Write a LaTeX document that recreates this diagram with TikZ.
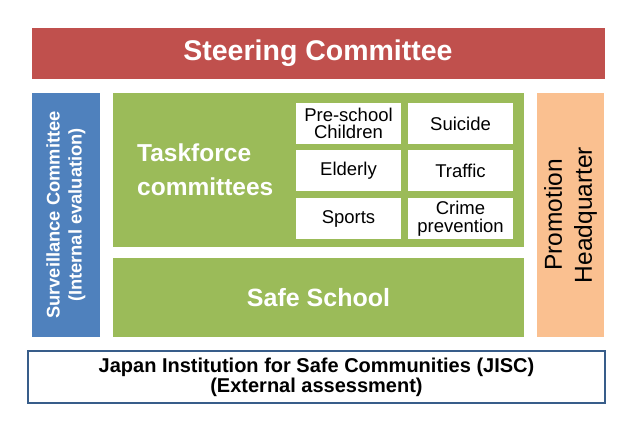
\documentclass[tikz,border=0pt]{standalone}
\usepackage{fontspec}
\setmainfont{Liberation Sans}
\definecolor{steerred}{HTML}{C0504D}
\definecolor{survblue}{HTML}{4F81BD}
\definecolor{taskgreen}{HTML}{9BBB59}
\definecolor{promoorange}{HTML}{FAC090}
\definecolor{jiscblue}{HTML}{385D8A}
\begin{document}
\begin{tikzpicture}[x=1pt, y=-1pt]
    \tikzset{
      block/.style={inner sep=0pt, align=center, text=white},
      sub/.style={fill=white, minimum width=105pt, minimum height=41pt,
                  inner sep=0pt, align=center,
                  font=\fontsize{18.5}{17.5}\selectfont},
    }
    \useasboundingbox (0,0) rectangle (640,440);

    \node[block, fill=steerred, minimum width=573pt, minimum height=51pt,
          font=\bfseries\fontsize{28.5}{34}\selectfont] (steer) at (318,53.5) {Steering Committee};

    \node[block, fill=survblue, minimum width=244pt, minimum height=68pt, rotate=90,
          font=\bfseries\fontsize{18.3}{22}\selectfont] (surv) at (66,215)
          {Surveillance Committee\\(Internal evaluation)};

    \node[block, fill=taskgreen, minimum width=411pt, minimum height=154pt] (task) at (318.5,170) {};
    \node[block, align=left, anchor=west, font=\bfseries\fontsize{24.5}{34}\selectfont] (tasklbl) at (137,170)
          {Taskforce\\committees};

    \node[sub] (bpre) at (348.5,123.5) {Pre-school\\Children};
    \node[sub] (bsui) at (460.5,123.5) {Suicide};
    \node[sub] (beld) at (348.5,170.5) {Elderly};
    \node[sub] (btra) at (460.5,170.5) {Traffic};
    \node[sub] (bspo) at (348.5,218.5) {Sports};
    \node[sub] (bcri) at (460.5,218.5) {Crime\\prevention};

    \node[block, fill=taskgreen, minimum width=411pt, minimum height=79pt,
          font=\bfseries\fontsize{25}{30}\selectfont] (safe) at (318.5,297.5) {Safe School};

    \node[block, fill=promoorange, text=black, minimum width=244pt, minimum height=67pt, rotate=90,
          font=\fontsize{24.5}{30}\selectfont] (promo) at (570.5,215)
          {Promotion\\Headquarter};

    \node[draw=jiscblue, line width=1.5pt, fill=white, minimum width=577pt, minimum height=52pt,
          inner sep=0pt, align=center, font=\bfseries\fontsize{20}{20}\selectfont] (jisc) at (316.5,377)
          {Japan Institution for Safe Communities (JISC)\\(External assessment)};
  \end{tikzpicture}
\end{document}
